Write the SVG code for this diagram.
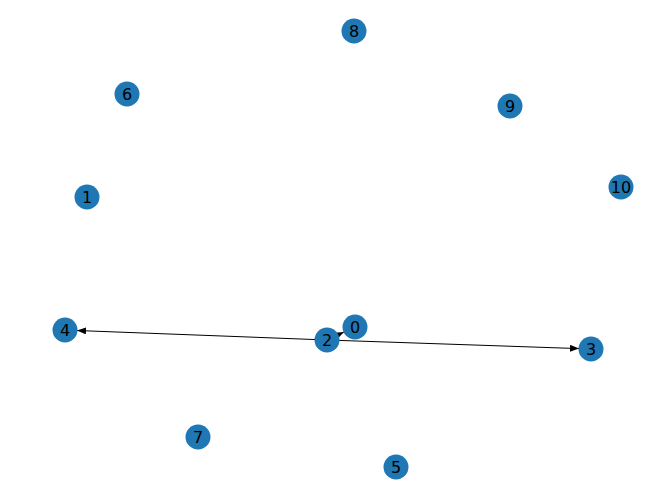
<svg xmlns="http://www.w3.org/2000/svg" width="660" height="499" viewBox="0 0 660 499">
<defs>
<marker id="ah" markerUnits="userSpaceOnUse" markerWidth="10" markerHeight="8" refX="9" refY="3.5" orient="auto">
<path d="M0,0 L9,3.5 L0,7 z" fill="#000"/>
</marker>
</defs>
<style>
.n circle{fill:#1f77b4}
.n text{font-family:"DejaVu Sans",sans-serif;font-size:16px;fill:#000;text-anchor:middle;dominant-baseline:central}
.e line{stroke:#000;stroke-width:1;marker-end:url(#ah)}
</style>
<rect width="660" height="499" fill="#fff"/>
<g id="edges" class="e">
<line x1="327" y1="340" x2="344" y2="332.1"/>
<line x1="327" y1="340" x2="77" y2="330.5"/>
<line x1="327" y1="340" x2="579" y2="348.6"/>
</g>
<g id="node0" class="n"><circle cx="355" cy="327" r="12.5"/><text x="355" y="327">0</text></g>
<g id="node1" class="n"><circle cx="87" cy="197" r="12.5"/><text x="87" y="197">1</text></g>
<g id="node2" class="n"><circle cx="327" cy="340" r="12.5"/><text x="327" y="340">2</text></g>
<g id="node3" class="n"><circle cx="591" cy="349" r="12.5"/><text x="591" y="349">3</text></g>
<g id="node4" class="n"><circle cx="65" cy="330" r="12.5"/><text x="65" y="330">4</text></g>
<g id="node5" class="n"><circle cx="396" cy="467" r="12.5"/><text x="396" y="467">5</text></g>
<g id="node6" class="n"><circle cx="127" cy="94" r="12.5"/><text x="127" y="94">6</text></g>
<g id="node7" class="n"><circle cx="198" cy="437" r="12.5"/><text x="198" y="437">7</text></g>
<g id="node8" class="n"><circle cx="354" cy="31" r="12.5"/><text x="354" y="31">8</text></g>
<g id="node9" class="n"><circle cx="510" cy="106" r="12.5"/><text x="510" y="106">9</text></g>
<g id="node10" class="n"><circle cx="621" cy="187" r="12.5"/><text x="621" y="187">10</text></g>
</svg>
